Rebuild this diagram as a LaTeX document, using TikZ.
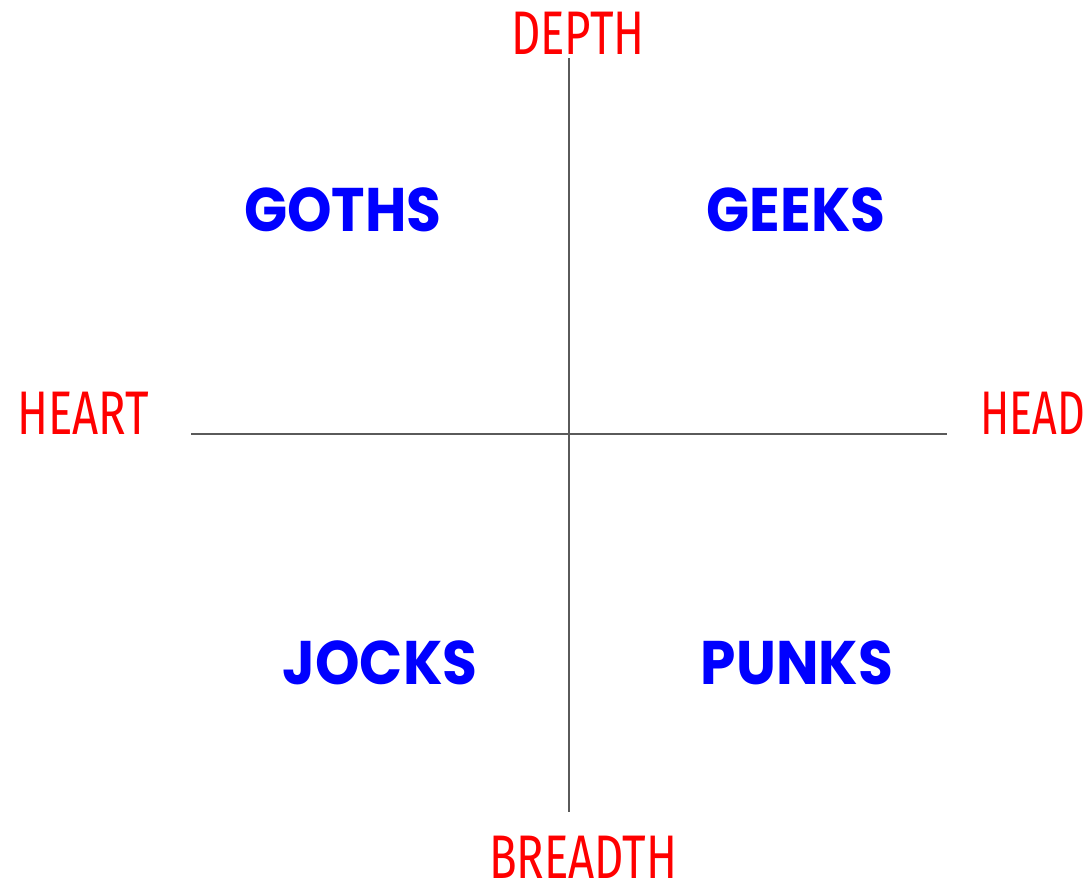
\documentclass[tikz,border=0pt]{standalone}
\usepackage{fontspec}
\usepackage{graphicx}
\setmainfont{Fira Sans}
\newfontfamily\grpfont{Poppins}
\definecolor{axisred}{RGB}{255,0,0}
\definecolor{grpblue}{RGB}{0,0,255}
\definecolor{axisgray}{RGB}{90,90,90}
\tikzset{
  axislbl/.style={text=axisred, font=\fontsize{17.5}{17.5}\selectfont, inner sep=0pt},
  grplbl/.style={text=grpblue, font=\grpfont\bfseries\fontsize{17.5}{17.5}\selectfont, inner sep=0pt},
  axisline/.style={draw=axisgray, line width=0.55pt}
}
\begin{document}
\begin{tikzpicture}[x=0.01cm,y=-0.01cm]
\useasboundingbox (0,0) rectangle (1086,891);
\fill[white] (0,0) rectangle (1086,891);
\coordinate (vtop) at (569,58);
\coordinate (vbot) at (569,812);
\coordinate (hl) at (191,434);
\coordinate (hr) at (947,434);
\draw[axisline] (vtop) -- (vbot);
\draw[axisline] (hl) -- (hr);
\node[axislbl] (depth) at (578,33) {\scalebox{0.74}[1]{DEPTH}};
\node[axislbl] (breadth) at (583,857) {\scalebox{0.74}[1]{BREADTH}};
\node[axislbl] (heart) at (83,413) {\scalebox{0.74}[1]{HEART}};
\node[axislbl] (head) at (1033,413) {\scalebox{0.7}[1]{HEAD}};
\node[grplbl] (goths) at (343,210) {\scalebox{0.92}[1]{GOTHS}};
\node[grplbl] (geeks) at (796,210) {\scalebox{0.92}[1]{GEEKS}};
\node[grplbl] (jocks) at (380,663) {\scalebox{0.92}[1]{JOCKS}};
\node[grplbl] (punks) at (797,663) {\scalebox{0.92}[1]{PUNKS}};
\end{tikzpicture}
\end{document}
